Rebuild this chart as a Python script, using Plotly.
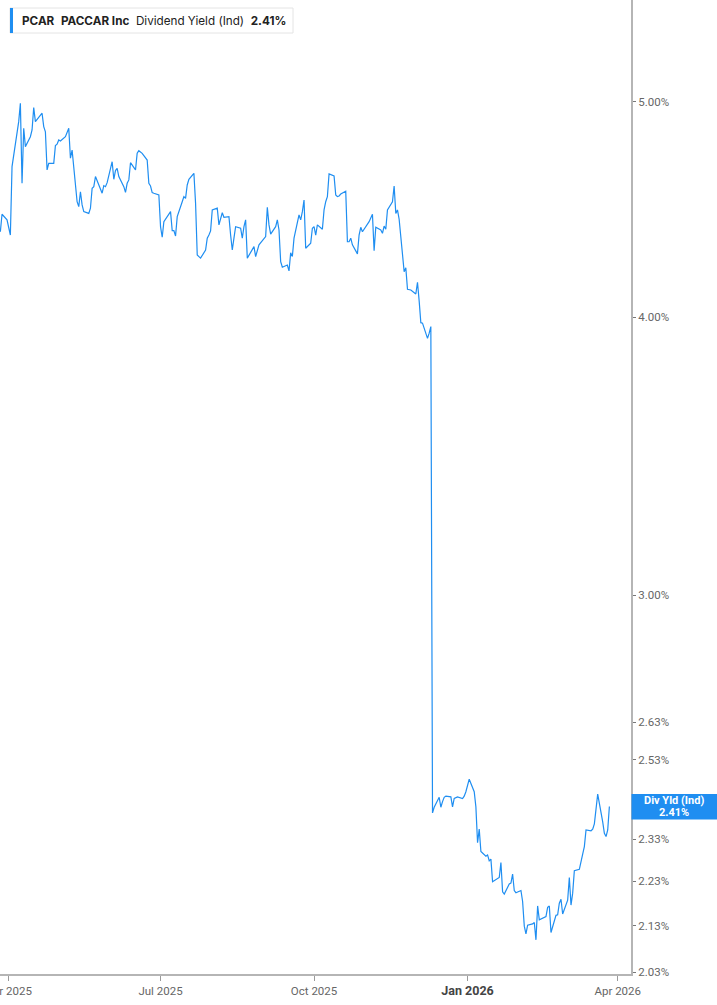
import math
import pandas as pd
import plotly.graph_objects as go

# ---- data -------------------------------------------------------------
TICKER = "PCAR"
COMPANY = "PACCAR Inc"
METRIC = "Dividend Yield (Ind)"
LAST_VALUE = 2.41

START_DATE = "2025-03-27"
END_DATE = "2026-03-27"
HOLIDAYS = ["2025-04-18", "2025-05-26", "2025-06-19", "2025-07-04", "2025-09-01",
            "2025-11-27", "2025-12-25", "2026-01-01", "2026-01-19", "2026-02-16"]

yield_pct = [
    4.371, 4.451, 4.425, 4.393, 4.356, 4.676, 4.733, 4.899, 4.993, 4.596,
    4.866, 4.774, 4.823, 4.857, 4.971, 4.899, 4.942, 4.874, 4.848, 4.660,
    4.692, 4.692, 4.779, 4.786, 4.807, 4.802, 4.823, 4.848, 4.866, 4.717,
    4.757, 4.509, 4.486, 4.556, 4.494, 4.463, 4.455, 4.479, 4.572, 4.580,
    4.628, 4.549, 4.585, 4.580, 4.599, 4.700, 4.615, 4.657, 4.668, 4.628,
    4.580, 4.553, 4.596, 4.612, 4.695, 4.660, 4.741, 4.754, 4.741, 4.708,
    4.596, 4.583, 4.552, 4.549, 4.541, 4.394, 4.346, 4.417, 4.463, 4.376,
    4.376, 4.352, 4.440, 4.509, 4.533, 4.525, 4.588, 4.615, 4.644, 4.502,
    4.267, 4.260, 4.253, 4.289, 4.342, 4.356, 4.375, 4.471, 4.479, 4.402,
    4.432, 4.458, 4.437, 4.440, 4.356, 4.289, 4.342, 4.394, 4.387, 4.342,
    4.394, 4.425, 4.253, 4.289, 4.304, 4.260, 4.285, 4.312, 4.349, 4.483,
    4.402, 4.360, 4.394, 4.425, 4.379, 4.238, 4.213, 4.223, 4.197, 4.277,
    4.260, 4.342, 4.448, 4.425, 4.463, 4.517, 4.297, 4.319, 4.387, 4.394,
    4.356, 4.402, 4.382, 4.471, 4.509, 4.533, 4.641, 4.631, 4.541, 4.533,
    4.536, 4.545, 4.558, 4.326, 4.326, 4.342, 4.312, 4.272, 4.356, 4.391,
    4.371, 4.382, 4.417, 4.434, 4.451, 4.286, 4.391, 4.379, 4.364, 4.397,
    4.382, 4.471, 4.509, 4.583, 4.455, 4.471, 4.428, 4.194, 4.211, 4.118,
    4.115, 4.098, 4.148, 4.069, 3.978, 3.976, 3.914, 3.935, 3.962, 2.394,
    2.408, 2.433, 2.408, 2.422, 2.433, 2.436, 2.434, 2.409, 2.430, 2.434,
    2.430, 2.436, 2.447, 2.479, 2.447, 2.409, 2.321, 2.354, 2.300, 2.289,
    2.292, 2.278, 2.282, 2.229, 2.239, 2.274, 2.206, 2.201, 2.224, 2.226,
    2.247, 2.209, 2.204, 2.209, 2.184, 2.129, 2.112, 2.131, 2.134, 2.137,
    2.099, 2.174, 2.143, 2.150, 2.171, 2.174, 2.115, 2.153, 2.154, 2.180,
    2.189, 2.156, 2.187, 2.239, 2.176, 2.203, 2.255, 2.258, 2.280, 2.294,
    2.312, 2.352, 2.350, 2.354, 2.367, 2.403, 2.441, 2.372, 2.344, 2.336,
    2.352, 2.410,
]

x_tick_vals = ["2025-04-01", "2025-07-01", "2025-10-01", "2026-01-01", "2026-04-01"]
x_tick_text = ["Apr 2025", "Jul 2025", "Oct 2025",
               "<b><span style='color:#444444;font-size:12.5px'>Jan 2026</span></b>",
               "Apr 2026"]
y_tick_vals = [2.03, 2.13, 2.23, 2.33, 2.53, 2.63, 3.00, 4.00, 5.00]
y_tick_text = [f"{v:.2f}%" for v in y_tick_vals]

# ---- figure -----------------------------------------------------------
dates = pd.bdate_range(START_DATE, END_DATE, freq="C", holidays=HOLIDAYS)
n = min(len(dates), len(yield_pct))
dates = dates[:n]
vals = yield_pct[:n]

BLUE = "#1f8ef1"
Y_MIN, Y_MAX = 2.026, 5.557
X_RANGE = ["2025-03-26 19:00", "2026-04-08 23:00"]

fig = go.Figure()
fig.add_trace(go.Scatter(
    x=dates, y=vals, mode="lines",
    line=dict(color=BLUE, width=1.2),
    hoverinfo="skip", showlegend=False,
))

W, H = 717, 1005
M = dict(l=0, r=86, t=0, b=31, autoexpand=False)

fig.update_layout(
    width=W, height=H, margin=M,
    paper_bgcolor="white", plot_bgcolor="white",
    showlegend=False,
    xaxis=dict(
        type="date", range=X_RANGE, automargin=False,
        tickvals=x_tick_vals, ticktext=x_tick_text,
        ticks="outside", ticklen=5, tickwidth=1, tickcolor="#9a9a9a",
        showline=True, linecolor="#b5b5b5", linewidth=2,
        showgrid=False, zeroline=False,
        ticklabeloverflow="allow",
        tickfont=dict(family="Roboto", size=11.5, color="#666666"),
    ),
    yaxis=dict(
        type="log", side="right", automargin=False,
        range=[math.log10(Y_MIN), math.log10(Y_MAX)],
        tickvals=y_tick_vals, ticktext=y_tick_text,
        ticks="outside", ticklen=3, tickwidth=1, tickcolor="#777777",
        showline=True, linecolor="#b5b5b5", linewidth=2,
        showgrid=False, zeroline=False,
        tickfont=dict(family="Roboto", size=11.5, color="#666666"),
    ),
)

# header box (top-left)
fig.add_shape(type="rect", xref="paper", yref="paper",
              xsizemode="pixel", ysizemode="pixel", xanchor=0, yanchor=1,
              x0=10, x1=293, y0=-8, y1=-33,
              line=dict(color="#e4e4e4", width=1), fillcolor="white", layer="above")
fig.add_shape(type="rect", xref="paper", yref="paper",
              xsizemode="pixel", ysizemode="pixel", xanchor=0, yanchor=1,
              x0=10, x1=13, y0=-8, y1=-33,
              line=dict(width=0), fillcolor=BLUE, layer="above")
fig.add_annotation(
    xref="paper", yref="paper", x=0, y=1, xanchor="left", yanchor="middle",
    xshift=20, yshift=-21, showarrow=False,
    text=(f"<b>{TICKER}</b>&nbsp;&nbsp;<b>{COMPANY}</b>&nbsp;&nbsp;"
          f"{METRIC}&nbsp;&nbsp;<b>{LAST_VALUE:.2f}%</b>"),
    font=dict(family="Inter", size=11.7, color="#222222"),
)

# last value label on the right axis
frac = (math.log10(LAST_VALUE) - math.log10(Y_MIN)) / (math.log10(Y_MAX) - math.log10(Y_MIN))
fig.add_shape(type="rect", xref="paper", yref="paper",
              xsizemode="pixel", ysizemode="pixel", xanchor=1, yanchor=frac,
              x0=0.5, x1=90, y0=-13, y1=12.5,
              line=dict(width=0), fillcolor=BLUE, layer="above")
fig.add_annotation(xref="paper", yref="paper", x=1, y=frac, xanchor="center", yanchor="middle",
                   xshift=43, yshift=5.5, showarrow=False,
                   text="<b>Div Yld (Ind)</b>",
                   font=dict(family="Roboto", size=11, color="white"))
fig.add_annotation(xref="paper", yref="paper", x=1, y=frac, xanchor="center", yanchor="middle",
                   xshift=43, yshift=-6, showarrow=False,
                   text=f"<b>{LAST_VALUE:.2f}%</b>",
                   font=dict(family="Roboto", size=11, color="white"))

fig.write_html("out.html",
               config={"displayModeBar": False, "staticPlot": True},
               post_script="document.body.style.margin='0px';document.body.style.overflow='hidden';")
